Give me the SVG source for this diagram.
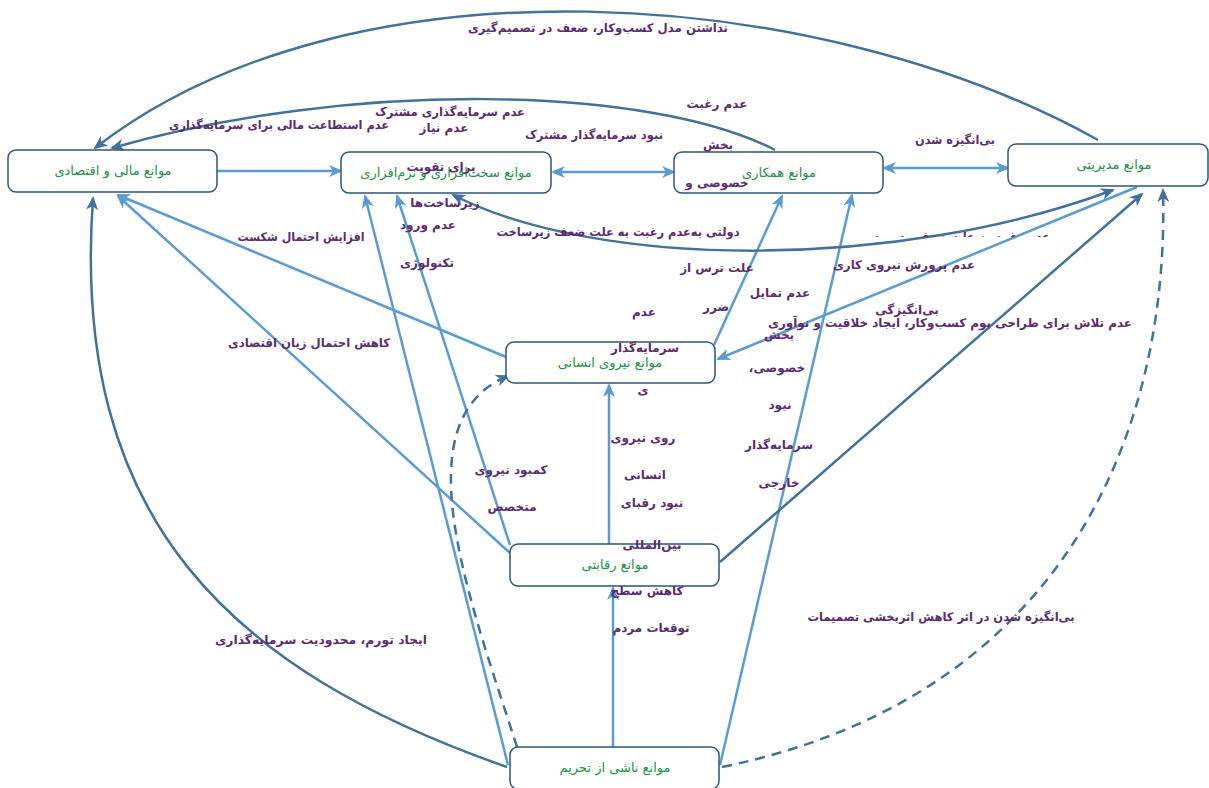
<svg xmlns="http://www.w3.org/2000/svg" width="1209" height="788" viewBox="0 0 1209 788">
<style>
.node rect{fill:#fff;stroke:#2c557c;stroke-width:1.5}
.node text{font-family:"DejaVu Sans",sans-serif;font-size:13px;fill:#22904a;text-anchor:middle;direction:rtl;unicode-bidi:embed}
.lbl text,text.lbl{font-family:"DejaVu Sans",sans-serif;font-size:12px;font-weight:bold;fill:#5b2c6f;text-anchor:middle;direction:rtl;unicode-bidi:embed}
.lt{fill:none;stroke:#5b9bd5;stroke-width:2.5}
.dk{fill:none;stroke:#41719c;stroke-width:2.5}
.dash{stroke-dasharray:10 7}
</style>
<defs>
<marker id="aL" viewBox="0 0 14 12" refX="12" refY="6" markerWidth="14" markerHeight="12" markerUnits="userSpaceOnUse" orient="auto-start-reverse"><path d="M0,0 L14,6 L0,12 L4,6 z" fill="#5b9bd5"/></marker>
<marker id="aD" viewBox="0 0 14 12" refX="12" refY="6" markerWidth="14" markerHeight="12" markerUnits="userSpaceOnUse" orient="auto-start-reverse"><path d="M0,0 L14,6 L0,12 L4,6 z" fill="#41719c"/></marker>
<clipPath id="clipTop"><rect x="850" y="220" width="220" height="17"/></clipPath>
</defs>
<rect width="1209" height="788" fill="#fff"/>
<g id="connectors">
<path class="lt" d="M217,171 L341,171" marker-end="url(#aL)"/>
<path class="lt" d="M553,172 L674,172" marker-start="url(#aL)" marker-end="url(#aL)"/>
<path class="lt" d="M884,168 L1008,168" marker-start="url(#aL)" marker-end="url(#aL)"/>
<path class="lt" d="M506,357 L118,195" marker-end="url(#aL)"/>
<path class="lt" d="M510,553 L118,196" marker-end="url(#aL)"/>
<path class="lt" d="M508,765 L365,196" marker-end="url(#aL)"/>
<path class="lt" d="M510,545 L397,196" marker-end="url(#aL)"/>
<path class="lt" d="M613,747 L613,588" marker-end="url(#aL)"/>
<path class="lt" d="M609,544 L609,385" marker-end="url(#aL)"/>
<path class="lt" d="M720,765 L852,195" marker-end="url(#aL)"/>
<path class="lt" d="M714,345 L782,196" marker-end="url(#aL)"/>
<path class="lt" d="M1137,187 L718,359" marker-end="url(#aL)"/>
<path class="dk" d="M1098,140 C820,-15 350,-50 95,148" marker-end="url(#aD)"/>
<path class="dk" d="M775,150 C650,85 350,80 112,148" marker-end="url(#aD)"/>
<path class="dk" d="M453,195 C600,270 900,270 1113,190" marker-start="url(#aD)" marker-end="url(#aD)"/>
<path class="dk" d="M507,767 C230,670 70,520 93,198" marker-end="url(#aD)"/>
<path class="dk" d="M720,562 L1142,194" marker-end="url(#aD)"/>
<path class="dk dash" d="M517,747 C470,600 400,420 508,376" marker-end="url(#aD)"/>
<path class="dk dash" d="M722,767 C1050,700 1170,450 1163,190" marker-end="url(#aD)"/>
</g>
<g id="n-finance" class="node"><rect x="8" y="150" width="209" height="42" rx="8"/><text x="113" y="175">موانع مالی و اقتصادی</text></g>
<g id="n-hardware" class="node"><rect x="341" y="152" width="210" height="41" rx="8"/><text x="446" y="177">موانع سخت‌افزاری و نرم‌افزاری</text></g>
<g id="n-coop" class="node"><rect x="674" y="152" width="209" height="41" rx="8"/><text x="779" y="177">موانع همکاری</text></g>
<g id="n-manage" class="node"><rect x="1008" y="144" width="200" height="42" rx="8"/><text x="1114" y="169">موانع مدیریتی</text></g>
<g id="n-human" class="node"><rect x="506" y="342" width="209" height="41" rx="8"/><text x="610" y="367">موانع نیروی انسانی</text></g>
<g id="n-compete" class="node"><rect x="510" y="544" width="209" height="42" rx="8"/><text x="615" y="569">موانع رقابتی</text></g>
<g id="n-sanction" class="node"><rect x="510" y="747" width="209" height="42" rx="8"/><text x="615" y="772">موانع ناشی از تحریم</text></g>
<g id="labels" class="lbl">
<text x="598" y="32" textLength="260" lengthAdjust="spacingAndGlyphs">نداشتن مدل کسب‌وکار، ضعف در تصمیم‌گیری</text>
<text x="450" y="116" textLength="150" lengthAdjust="spacingAndGlyphs">عدم سرمایه‌گذاری مشترک</text>
<text x="279" y="129" textLength="220" lengthAdjust="spacingAndGlyphs">عدم استطاعت مالی برای سرمایه‌گذاری</text>
<text x="444" y="132">عدم نیاز</text>
<text x="594" y="139" textLength="138" lengthAdjust="spacingAndGlyphs">نبود سرمایه‌گذار مشترک</text>
<text x="717" y="108">عدم رغبت</text>
<text x="718" y="149">بخش</text>
<text x="717" y="187">خصوصی و</text>
<text x="441" y="171">برای تقویت</text>
<text x="445" y="207">زیرساخت‌ها</text>
<text x="428" y="229">عدم ورود</text>
<text x="427" y="267">تکنولوژی</text>
<text x="301" y="241" textLength="127" lengthAdjust="spacingAndGlyphs">افزایش احتمال شکست</text>
<text x="618" y="236" textLength="243" lengthAdjust="spacingAndGlyphs">دولتی به‌عدم رغبت به علت ضعف زیرساخت</text>
<text x="309" y="347" textLength="162" lengthAdjust="spacingAndGlyphs">کاهش احتمال زیان اقتصادی</text>
<text x="717" y="272">علت ترس از</text>
<text x="716" y="311">ضرر</text>
<text x="644" y="316">عدم</text>
<text x="645" y="352">سرمایه‌گذار</text>
<text x="643" y="394">ی</text>
<text x="643" y="442">روی نیروی</text>
<text x="645" y="479">انسانی</text>
<text x="652" y="507">نبود رقبای</text>
<text x="652" y="549">بین‌المللی</text>
<text x="647" y="595">کاهش سطح</text>
<text x="651" y="632">توقعات مردم</text>
<text x="511" y="474">کمبود نیروی</text>
<text x="512" y="511">متخصص</text>
<text x="780" y="297">عدم تمایل</text>
<text x="779" y="339">بخش</text>
<text x="777" y="372">خصوصی،</text>
<text x="780" y="409">نبود</text>
<text x="779" y="449">سرمایه‌گذار</text>
<text x="779" y="487">خارجی</text>
<text x="904" y="269" textLength="142" lengthAdjust="spacingAndGlyphs">عدم پرورش نیروی کاری</text>
<text x="907" y="314">بی‌انگیزگی</text>
<text x="950" y="327" textLength="364" lengthAdjust="spacingAndGlyphs">عدم تلاش برای طراحی بوم کسب‌وکار، ایجاد خلاقیت و نوآوری</text>
<text x="955" y="144" textLength="80" lengthAdjust="spacingAndGlyphs">بی‌انگیزه شدن</text>
<text x="961" y="241" textLength="178" lengthAdjust="spacingAndGlyphs" clip-path="url(#clipTop)">عدم رغبت به علت ضعف مدیریت</text>
<text x="941" y="621" textLength="267" lengthAdjust="spacingAndGlyphs">بی‌انگیزه شدن در اثر کاهش اثربخشی تصمیمات</text>
<text x="321" y="644" textLength="212" lengthAdjust="spacingAndGlyphs">ایجاد تورم، محدودیت سرمایه‌گذاری</text>
</g>
</svg>
